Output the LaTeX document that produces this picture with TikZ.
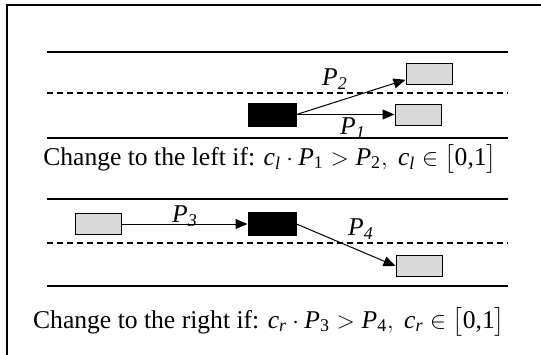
\documentclass[tikz,border=0pt]{standalone}
\usepackage{amsmath}
\usepackage{fontspec}
\setmainfont{Liberation Serif}
\usetikzlibrary{arrows.meta}
\definecolor{cargray}{RGB}{217,217,217}
\newcommand{\mi}[1]{\textit{#1}}

\begin{document}
\begin{tikzpicture}[x=0.5pt,y=-0.5pt,line width=0.5pt,>={Triangle[length=6pt,width=5pt]},
  font=\fontsize{12.8}{14}\selectfont,
  car/.style={draw,line width=0.5pt,inner sep=0pt,minimum width=23pt,minimum height=10.5pt},
  othercar/.style={car,fill=cargray},
  egocar/.style={car,fill=black,minimum width=24pt,minimum height=11.5pt},
  lane/.style={line width=0.6pt},
  midlane/.style={lane,dash pattern=on 3pt off 2pt}]
  \useasboundingbox (0,0) rectangle (541,354);
  \draw[line width=1pt] (7,5) rectangle (560,380);
  % upper road: change to the left
  \draw[lane] (47,52) -- (508,52);
  \draw[midlane] (47,93) -- (508,93);
  \draw[lane] (47,138) -- (508,138);
  \node[egocar] (ego1) at (272,114.5) {};
  \node[othercar] (left1) at (429,73.5) {};
  \node[othercar] (same1) at (418,114.5) {};
  \draw[->] (ego1.east) -- (left1.195);
  \draw[->] (ego1) -- (same1);
  \node (p2) at (335,79) {\mi{P}$_{\mi{2}}$};
  \node (p1) at (353,128) {\mi{P}$_{\mi{1}}$};
  \node[anchor=base] (rule1) at (270,165)
    {Change to the left if: $\mi{c}_{\mi{l}}\cdot\mi{P}_{\textup{1}}>\mi{P}_{\textup{2}},\ \mi{c}_{\mi{l}}\in\bigl[\textup{0,1}\bigr]$};
  % lower road: change to the right
  \draw[lane] (47,199) -- (508,199);
  \draw[midlane] (47,243) -- (508,243);
  \draw[lane] (47,286) -- (508,286);
  \node[othercar] (rear2) at (98,224) {};
  \node[egocar] (ego2) at (272,224) {};
  \node[othercar] (right2) at (419,266) {};
  \draw[->] (rear2) -- (ego2);
  \draw[->] (ego2.east) -- (right2.west);
  \node (p3) at (185,216) {\mi{P}$_{\mi{3}}$};
  \node (p4) at (361,229) {\mi{P}$_{\mi{4}}$};
  \node[anchor=base] (rule2) at (269,328)
    {Change to the right if: $\mi{c}_{\mi{r}}\cdot\mi{P}_{\textup{3}}>\mi{P}_{\textup{4}},\ \mi{c}_{\mi{r}}\in\bigl[\textup{0,1}\bigr]$};
\end{tikzpicture}
\end{document}
